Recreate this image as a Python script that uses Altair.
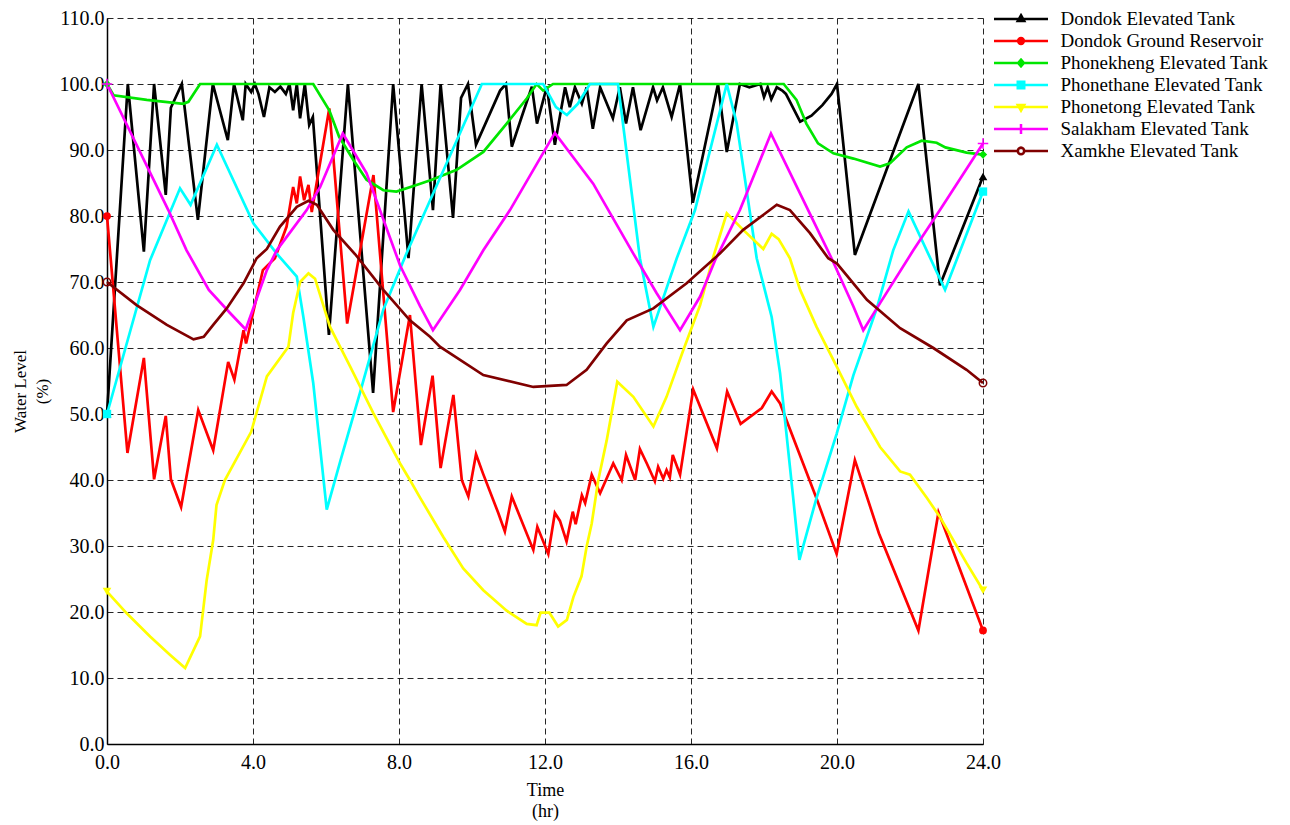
import altair as alt
import pandas as pd

series = ["Dondok Elevated Tank", "Dondok Ground Reservoir", "Phonekheng Elevated Tank",
          "Phonethane Elevated Tank", "Phonetong Elevated Tank", "Salakham Elevated Tank",
          "Xamkhe Elevated Tank"]
colors = ["#000000", "#FF0000", "#00E600", "#00FFFF", "#FFFF00", "#FF00FF", "#800000"]

x_ticks = [0, 4, 8, 12, 16, 20, 24]
y_ticks = [0, 10, 20, 30, 40, 50, 60, 70, 80, 90, 100, 110]

dondok_t = [0, 0.57, 1.01, 1.29, 1.61, 1.75, 2.05, 2.49, 2.90, 3.31, 3.48, 3.72, 3.80, 3.95, 4.05, 4.15, 4.30,
            4.45, 4.60, 4.75, 4.90, 5.00, 5.10, 5.20, 5.29, 5.42, 5.54, 5.64, 6.08, 6.60, 7.29, 7.84, 8.26,
            8.62, 8.93, 9.14, 9.48, 9.70, 9.89, 10.11, 10.77, 10.93, 11.09, 11.36, 11.64, 11.78, 12.05,
            12.27, 12.55, 12.68, 12.82, 13.01, 13.14, 13.31, 13.51, 13.86, 14.05, 14.22, 14.41, 14.62,
            14.96, 15.07, 15.23, 15.47, 15.70, 16.05, 16.74, 16.98, 17.34, 17.60, 17.90, 18.00, 18.10,
            18.20, 18.35, 18.50, 18.60, 18.99, 19.30, 19.60, 19.85, 20.00, 20.49, 22.23, 22.82, 24.0]
dondok_v = [50, 100, 74.6, 100, 83.2, 96.4, 100, 79.4, 100, 91.5, 100, 94.5, 100, 98.8, 100, 98.5, 95.0,
            99.5, 98.8, 99.6, 98.5, 100, 96.0, 100, 94.8, 100, 93.8, 95.0, 62.0, 100, 53.2, 100, 73.6,
            100, 80.9, 100, 79.7, 97.9, 100, 90.8, 99.0, 100, 90.5, 95.0, 99.6, 94.0, 99.6,
            90.8, 99.5, 96.5, 99.5, 97.0, 99.5, 93.2, 99.5, 94.8, 99.5, 94.0, 99.5, 93.0,
            99.5, 97.5, 99.5, 95.0, 100, 82.0, 100, 89.7, 100, 99.5, 100, 98.0, 99.5,
            97.7, 99.5, 99.0, 98.5, 94.3, 95.2, 96.8, 98.5, 100, 74.1, 100, 69.5, 86.0]

ground_t = [0, 0.56, 1.01, 1.29, 1.61, 1.75, 2.03, 2.50, 2.91, 3.32, 3.49, 3.74, 3.81, 4.27, 4.60, 4.92,
            5.10, 5.20, 5.29, 5.40, 5.52, 5.61, 6.09, 6.58, 7.30, 7.84, 8.30, 8.60, 8.92, 9.14, 9.49,
            9.72, 9.90, 10.11, 10.30, 10.72, 10.90, 11.09, 11.68, 11.79, 12.09, 12.27, 12.41, 12.59,
            12.76, 12.84, 13.01, 13.10, 13.28, 13.51, 13.87, 14.10, 14.22, 14.47, 14.60, 14.79, 15.01,
            15.10, 15.24, 15.33, 15.42, 15.50, 15.70, 16.06, 16.71, 16.99, 17.36, 17.94, 18.21, 18.44,
            19.44, 19.99, 20.49, 21.15, 22.23, 22.78, 24.0]
ground_v = [80, 44.1, 58.5, 40.1, 49.7, 40.1, 35.9, 50.6, 44.5, 57.9, 55.2, 62.7, 60.7, 71.8, 73.6, 78.4,
            84.4, 81.9, 86.0, 82.4, 84.7, 80.6, 96.3, 63.7, 86.2, 50.3, 65.0, 45.3, 55.8, 41.8, 52.9,
            40.0, 37.5, 43.9, 41.0, 35.0, 32.2, 37.5, 29.4, 32.9, 28.8, 35.0, 33.8, 30.7,
            35.2, 33.3, 37.7, 36.5, 40.8, 38.0, 42.5, 40.0, 43.8, 40.0, 44.7, 42.5, 39.8,
            42.0, 40.2, 41.5, 40.4, 43.8, 40.8, 53.7, 44.8, 53.4, 48.5, 50.9, 53.4, 51.6,
            37.2, 28.8, 43.0, 31.9, 17.2, 35.1, 17.2]

kheng_t = [0, 0.18, 1.09, 2.09, 2.23, 2.55, 5.65, 6.09, 6.36, 6.75, 7.11, 7.57, 7.93, 8.48, 8.90, 9.58,
           10.31, 10.95, 11.50, 11.77, 11.95, 12.22, 18.54, 18.89, 19.16, 19.48, 19.90, 20.45, 21.18,
           21.45, 21.91, 22.32, 22.73, 22.97, 23.55, 24.0]
kheng_v = [100, 98.3, 97.6, 97.0, 97.3, 100, 100, 96.0, 92.0, 88.5, 85.5, 83.9, 83.7, 84.7, 85.5, 87.0,
           89.7, 94.0, 97.8, 100, 99.0, 100, 100, 97.6, 94.0, 91.0, 89.5, 88.7, 87.5,
           88.0, 90.4, 91.4, 91.1, 90.4, 89.6, 89.3]

thane_t = [0, 1.18, 2.00, 2.29, 3.01, 4.01, 4.65, 5.20, 5.38, 5.65, 6.02, 6.40, 6.93, 7.57, 8.21, 10.27,
           11.95, 12.30, 12.60, 12.90, 13.23, 14.00, 14.60, 14.97, 15.61, 16.11, 16.98, 17.25, 17.80,
           18.21, 18.44, 18.80, 18.97, 19.44, 19.99, 20.45, 21.09, 21.54, 21.96, 22.96, 24.0]
thane_v = [50, 73.3, 84.2, 81.7, 90.8, 78.9, 74.3, 70.8, 64.7, 54.7, 35.5, 43.0, 53.2, 65.8, 74.4, 100,
           100, 96.5, 95.3, 97.0, 100, 100, 73.6, 63.2, 73.6, 80.9, 100, 94.1, 73.6,
           64.7, 56.2, 37.3, 27.9, 37.3, 47.0, 55.9, 66.0, 74.8, 80.7, 68.8, 83.7]

tong_t = [0, 0.54, 1.18, 1.73, 2.14, 2.55, 2.73, 2.91, 3.00, 3.23, 3.95, 4.38, 4.97, 5.10, 5.29, 5.52,
          5.70, 6.11, 6.66, 7.30, 8.03, 8.30, 8.58, 9.21, 9.76, 10.31, 10.95, 11.50, 11.77, 11.88,
          12.12, 12.36, 12.60, 12.78, 13.00, 13.14, 13.28, 13.46, 13.69, 13.98, 14.42, 14.97, 15.33,
          15.79, 16.25, 16.61, 16.98, 17.43, 17.98, 18.21, 18.40, 18.71, 18.99, 19.44, 19.99, 20.54,
          21.18, 21.73, 22.00, 22.46, 22.82, 23.55, 24.0]
tong_v = [23.1, 19.8, 16.3, 13.5, 11.5, 16.3, 24.8, 30.9, 36.2, 40.0, 47.3, 55.7, 60.2, 65.3, 70.0, 71.3,
          70.5, 63.2, 57.2, 50.1, 42.5, 40.0, 37.3, 31.4, 26.6, 23.3, 20.2, 18.2, 18.0, 19.9,
          19.9, 17.8, 18.8, 22.3, 25.4, 29.9, 33.4, 40.0, 46.0, 54.9, 52.6, 48.1, 52.6,
          59.7, 66.5, 73.8, 80.4, 77.9, 75.0, 77.3, 76.5, 73.6, 68.8, 63.2, 57.2, 51.1,
          45.0, 41.3, 40.8, 37.3, 34.4, 27.4, 23.3]

sala_t = [0, 1.68, 2.18, 2.79, 3.37, 3.80, 4.38, 4.65, 5.47, 5.84, 6.46, 7.11, 8.03, 8.58, 8.93, 9.67,
          10.31, 11.04, 12.27, 13.32, 14.42, 15.06, 15.70, 16.25, 16.66, 17.34, 18.19, 18.90, 19.85,
          20.45, 20.72, 21.18, 22.09, 22.82, 24.0]
sala_v = [100, 80.9, 74.8, 68.8, 65.3, 62.8, 71.8, 74.8, 80.9, 84.4, 92.5, 86.5, 72.5, 66.3, 62.7, 68.8,
          74.8, 80.9, 92.6, 84.9, 74.3, 68.3, 62.7, 67.8, 73.3, 80.9, 92.5, 84.4, 73.6,
          66.3, 62.7, 66.8, 74.8, 80.9, 91.0]

xam_t = [0, 0.81, 1.64, 2.37, 2.65, 2.91, 3.28, 3.74, 4.10, 4.38, 4.74, 5.20, 5.52, 5.75, 6.20, 6.80,
         7.57, 8.30, 8.85, 9.12, 10.31, 11.68, 12.59, 13.14, 13.69, 14.24, 14.97, 15.88, 16.79, 17.43,
         18.35, 18.71, 19.26, 19.76, 20.00, 20.82, 21.73, 22.64, 23.55, 24.0]
xam_v = [70, 66.5, 63.5, 61.3, 61.7, 63.5, 66.0, 69.8, 73.6, 75.0, 78.4, 81.4, 82.3, 81.7, 77.9, 74.2,
         68.8, 64.2, 61.7, 60.2, 55.9, 54.1, 54.4, 56.7, 60.7, 64.2, 66.0, 69.8, 74.3, 77.9,
         81.7, 80.9, 77.4, 73.6, 72.8, 67.3, 63.0, 60.0, 56.7, 54.7]

all_t = [dondok_t, ground_t, kheng_t, thane_t, tong_t, sala_t, xam_t]
all_v = [dondok_v, ground_v, kheng_v, thane_v, tong_v, sala_v, xam_v]

rows = []
for s, ts, vs in zip(series, all_t, all_v):
    for i, (t, v) in enumerate(zip(ts, vs)):
        rows.append({"series": s, "t": t, "v": v, "i": i})
df = pd.DataFrame(rows)

end_shapes = ["triangle-up", "circle", "diamond", "square", "triangle-down",
              "M-1,0L1,0M0,-1L0,1", "circle"]
end_filled = [True, True, True, True, True, False, False]
end_sizes = [75, 60, 70, 70, 75, 110, 55]

legend_shapes = [
    "M-3,0L3,0M0,-0.42L0.36,0.22L-0.36,0.22Z",
    "M-3,0L3,0M-0.32,0A0.32,0.32 0 1,1 0.32,0A0.32,0.32 0 1,1 -0.32,0Z",
    "M-3,0L3,0M0,-0.38L0.32,0L0,0.38L-0.32,0Z",
    "M-3,0L3,0M-0.36,-0.36L0.36,-0.36L0.36,0.36L-0.36,0.36Z",
    "M-3,0L3,0M-0.36,-0.22L0.36,-0.22L0,0.42Z",
    "M-3,0L3,0M0,-0.55L0,0.55",
    "M-3,0L-0.36,0M0.36,0L3,0"
    "M-0.36,0A0.36,0.36 0 1,1 0.36,0A0.36,0.36 0 1,1 -0.36,0Z"
    "M-0.35,0A0.35,0.35 0 1,0 0.35,0A0.35,0.35 0 1,0 -0.35,0Z",
]

font = "Liberation Serif"

x_enc = alt.X("t:Q", scale=alt.Scale(domain=[0, 24], nice=False, zero=False),
              axis=alt.Axis(values=x_ticks, format=".1f", title=["Time", "(hr)"],
                            labelFontSize=20, labelPadding=8, ticks=False, labelFlush=False,
                            titleFontSize=18, titleFontWeight="normal", titleY=37,
                            titleBaseline="top", titleLineHeight=21))
y_enc = alt.Y("v:Q", scale=alt.Scale(domain=[0, 110], nice=False),
              axis=alt.Axis(values=y_ticks, format=".1f", title=["Water Level", "(%)"],
                            labelFontSize=20, labelPadding=3, ticks=False, labelFlush=False,
                            titleFontSize=17, titleFontWeight="normal", titleAngle=-90,
                            titleX=-95, titleY=373, titleBaseline="top", titleLineHeight=22,
                            titleAlign="center"))
# colour scale: domain taken from the data (sorted names = series order)
color_enc = alt.Color("series:N", scale=alt.Scale(range=colors), legend=None)

base = alt.Chart(df)

lines = base.mark_line(strokeWidth=2.7).encode(x=x_enc, y=y_enc, color=color_enc,
                                                order=alt.Order("i:Q"))

ends = base.transform_filter("datum.t == 0 || datum.t == 24")
end_layers = []
for s, shp, fl, sz in zip(series, end_shapes, end_filled, end_sizes):
    end_layers.append(
        ends.transform_filter(alt.FieldEqualPredicate(field="series", equal=s))
        .mark_point(shape=shp, filled=fl, size=sz, opacity=1, strokeWidth=1.5)
        .encode(x="t:Q", y="v:Q", color=color_enc)
    )

leg = alt.Legend(title=None, orient="none", legendX=903.5, legendY=-9.5, padding=0,
                 labelFont=font, labelFontSize=19, labelColor="#000", labelOffset=29,
                 symbolSize=324, symbolStrokeWidth=2.5, rowPadding=1, labelLimit=400,
                 symbolOpacity=1)

legend_layer = base.transform_filter("datum.t == 0").mark_point(
    filled=True, size=324, opacity=0, strokeWidth=2.5).encode(
    x="t:Q", y="v:Q",
    shape=alt.Shape("series:N", scale=alt.Scale(domain=series, range=legend_shapes), legend=leg),
    fill=alt.Fill("series:N", scale=alt.Scale(domain=series, range=colors), legend=leg),
    stroke=alt.Stroke("series:N", scale=alt.Scale(domain=series, range=colors), legend=leg),
)

chart = alt.layer(lines, *end_layers, legend_layer).properties(
    width=876, height=726,
    autosize=alt.AutoSizeParams(type="none"),
    padding={"left": 107, "top": 18, "right": 307, "bottom": 81},
    background="white",
).configure_view(stroke=None).configure_axis(
    grid=True, gridColor="#000000", gridDash=[6, 4], gridWidth=1, gridOpacity=0.85,
    domainColor="#000000", domainWidth=1.5,
    labelFont=font, titleFont=font, labelColor="#000000", titleColor="#000000",
)

chart.save("out.html", embed_options={"renderer": "svg", "actions": False})
